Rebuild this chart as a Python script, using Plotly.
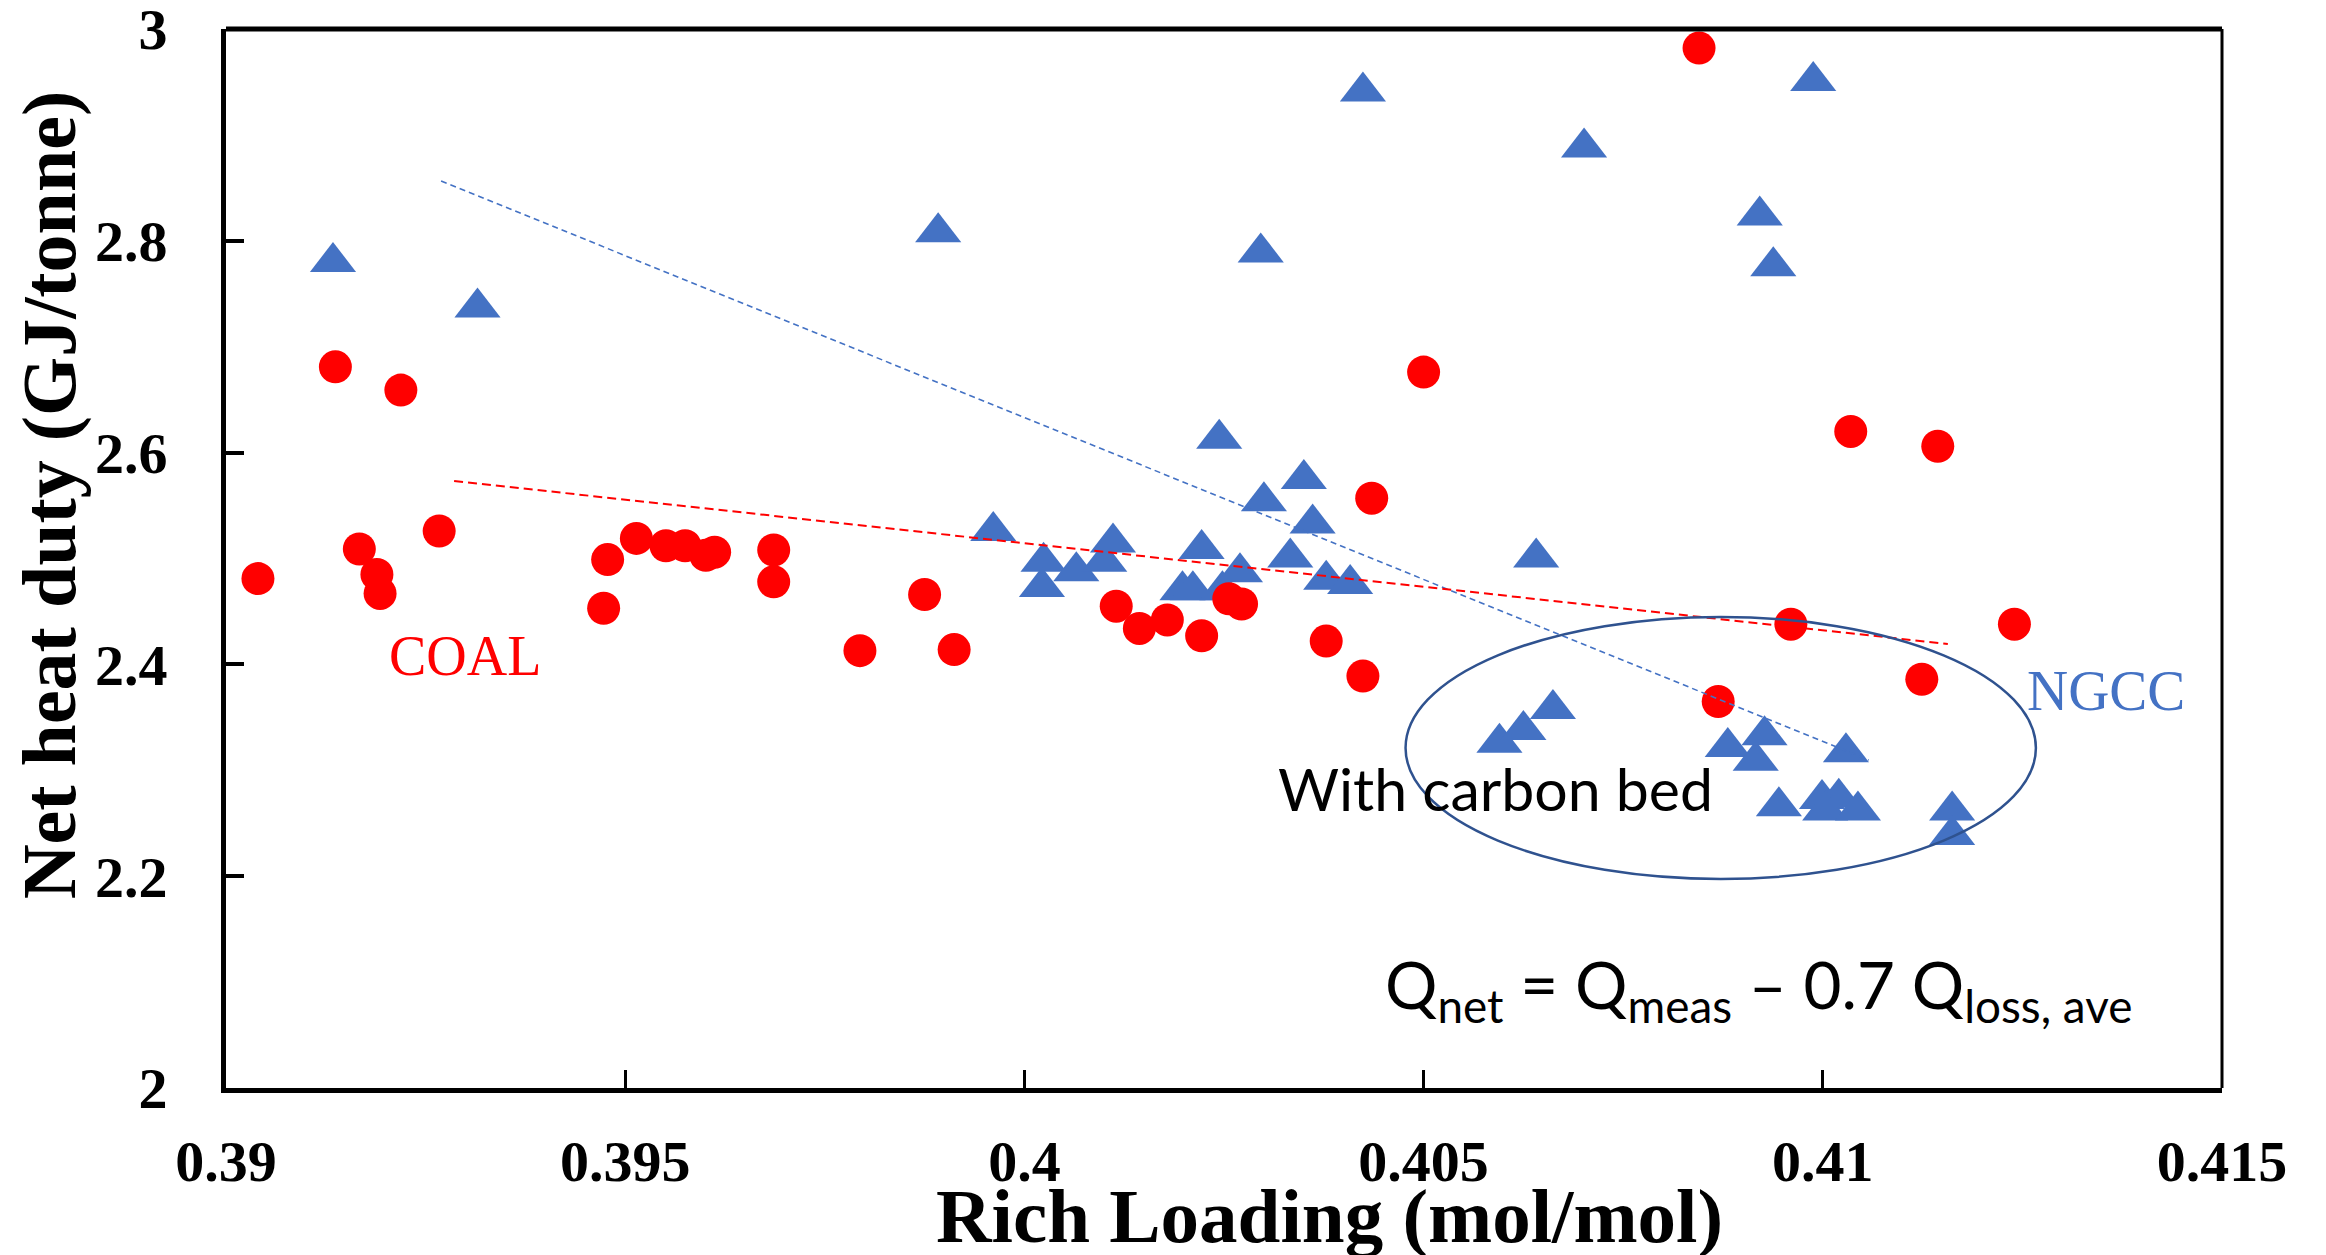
import plotly.graph_objects as go

# ---------------- data ----------------
coal_x = [0.3904, 0.39137, 0.39219, 0.39167, 0.39189, 0.39193, 0.39267, 0.39478,
          0.39473, 0.39514, 0.39551, 0.39575, 0.39601, 0.39612, 0.39686, 0.39686,
          0.39794, 0.39875, 0.39912, 0.40115, 0.40144, 0.40179, 0.40222, 0.40256,
          0.40272, 0.40378, 0.40424, 0.40435, 0.40500, 0.40845, 0.40869, 0.40960,
          0.41035, 0.41144, 0.41124, 0.41240]
coal_y = [2.481, 2.681, 2.659, 2.509, 2.485, 2.467, 2.526, 2.499,
          2.453, 2.519, 2.512, 2.512, 2.503, 2.506, 2.508, 2.478,
          2.413, 2.466, 2.414, 2.455, 2.434, 2.442, 2.427, 2.462,
          2.457, 2.422, 2.389, 2.557, 2.676, 2.982, 2.365, 2.438,
          2.620, 2.606, 2.386, 2.438]

ngcc_x = [0.39134, 0.39315, 0.39892, 0.39961, 0.40024, 0.40022, 0.40065, 0.40100,
          0.40111, 0.40198, 0.40211, 0.40222, 0.40244, 0.40248, 0.40270, 0.40296,
          0.40300, 0.40333, 0.40350, 0.40361, 0.40378, 0.40408, 0.40424, 0.40641,
          0.40701, 0.40921, 0.40938, 0.40988, 0.40595, 0.40625, 0.40662, 0.40881,
          0.40916, 0.40927, 0.41029, 0.40945, 0.40999, 0.41020, 0.41003, 0.41044,
          0.41162, 0.41162]
ngcc_y = [2.780, 2.737, 2.808, 2.526, 2.497, 2.473, 2.488, 2.497,
          2.515, 2.470, 2.470, 2.509, 2.613, 2.470, 2.487, 2.789,
          2.554, 2.501, 2.575, 2.533, 2.480, 2.476, 2.941, 2.501,
          2.888, 2.824, 2.776, 2.951, 2.326, 2.338, 2.358, 2.322,
          2.309, 2.333, 2.317, 2.266, 2.273, 2.274, 2.262, 2.262,
          2.262, 2.239]

coal_trend_x = [0.392857, 0.411566]
coal_trend_y = [2.5732, 2.4193]
ngcc_trend_x = [0.392694, 0.410576]
ngcc_trend_y = [2.8565, 2.3097]

# carbon-bed ellipse bounds (data units)
ellipse_x = [0.404774, 0.412669]
ellipse_y = [2.1974, 2.4448]

x_ticks = [0.39, 0.395, 0.4, 0.405, 0.41, 0.415]
x_ticktext = ["0.39", "0.395", "0.4", "0.405", "0.41", "0.415"]
y_ticks = [2.0, 2.2, 2.4, 2.6, 2.8, 3.0]
y_ticktext = ["2", "2.2", "2.4", "2.6", "2.8", "3"]

RED = "#FF0000"
BLUE = "#4472C4"
SERIF = "Liberation Serif"

fig = go.Figure()

fig.add_trace(go.Scatter(
    x=ngcc_x, y=ngcc_y, mode="markers", name="NGCC", cliponaxis=False,
    marker=dict(symbol="triangle-up", size=40, color=BLUE, line=dict(width=0)),
))
fig.add_trace(go.Scatter(
    x=coal_x, y=coal_y, mode="markers", name="COAL", cliponaxis=False,
    marker=dict(symbol="circle", size=33, color=RED, line=dict(width=0)),
))
fig.add_trace(go.Scatter(
    x=ngcc_trend_x, y=ngcc_trend_y, mode="lines", name="NGCC trend",
    line=dict(color=BLUE, width=1.6, dash="6px,4px"),
))
fig.add_trace(go.Scatter(
    x=coal_trend_x, y=coal_trend_y, mode="lines", name="COAL trend",
    line=dict(color=RED, width=2, dash="9px,5px"),
))

# ellipse
fig.add_shape(type="circle", xref="x", yref="y",
              x0=ellipse_x[0], x1=ellipse_x[1], y0=ellipse_y[0], y1=ellipse_y[1],
              line=dict(color="#2F528F", width=2.5), layer="above")

# top and right frame lines
fig.add_shape(type="line", xref="paper", yref="paper", x0=0, x1=1, y0=1, y1=1,
              line=dict(color="black", width=5))
fig.add_shape(type="line", xref="paper", yref="paper", x0=1, x1=1, y0=0, y1=1,
              line=dict(color="black", width=3))

axis_font = dict(family=SERIF, size=58, color="black", weight="bold")

fig.update_xaxes(
    range=[0.39, 0.415], tickvals=x_ticks, ticktext=x_ticktext,
    showgrid=False, zeroline=False, showline=True, linecolor="black", linewidth=5,
    ticks="inside", ticklen=18, tickwidth=3, tickcolor="black",
    tickfont=axis_font, ticklabelstandoff=18, ticklabeloverflow="allow",
    automargin=False,
)
fig.update_yaxes(
    range=[2, 3], tickvals=y_ticks, ticktext=y_ticktext,
    showgrid=False, zeroline=False, showline=True, linecolor="black", linewidth=5,
    ticks="inside", ticklen=18, tickwidth=4, tickcolor="black",
    tickfont=axis_font, ticklabelstandoff=42, ticklabeloverflow="allow",
    automargin=False,
)

annotations = [
    dict(text="Rich Loading (mol/mol)", x=0.553, y=-0.121, xref="paper", yref="paper",
         xanchor="center", yanchor="middle", showarrow=False,
         font=dict(family=SERIF, size=77, color="black", weight="bold")),
    dict(text="Net heat duty (GJ/tonne)", x=-0.088, y=0.56, xref="paper", yref="paper",
         xanchor="center", yanchor="middle", showarrow=False, textangle=-90,
         font=dict(family=SERIF, size=76, color="black", weight="bold")),
    dict(text="COAL", x=0.1197, y=0.408, xref="paper", yref="paper",
         xanchor="center", yanchor="middle", showarrow=False,
         font=dict(family=SERIF, size=56, color=RED)),
    dict(text="NGCC", x=0.9419, y=0.375, xref="paper", yref="paper",
         xanchor="center", yanchor="middle", showarrow=False,
         font=dict(family=SERIF, size=57, color=BLUE)),
    dict(text="With carbon bed", x=0.636, y=0.283, xref="paper", yref="paper",
         xanchor="center", yanchor="middle", showarrow=False,
         font=dict(family="Lato", size=59, color="black")),
    dict(text="Q<sub>net</sub> = Q<sub>meas</sub> \u2013 0.7 Q<sub>loss, ave</sub>",
         x=0.768, y=0.094, xref="paper", yref="paper",
         xanchor="center", yanchor="middle", showarrow=False,
         font=dict(family="Lato", size=65.5, color="black")),
]

# page body has an 8px margin, so margins are offset to place the plot area
fig.update_layout(
    width=2326, height=1255,
    margin=dict(l=218, r=112, t=21, b=175, pad=0, autoexpand=False),
    plot_bgcolor="white", paper_bgcolor="white",
    showlegend=False,
    annotations=annotations,
)

fig.write_html("out.html")
